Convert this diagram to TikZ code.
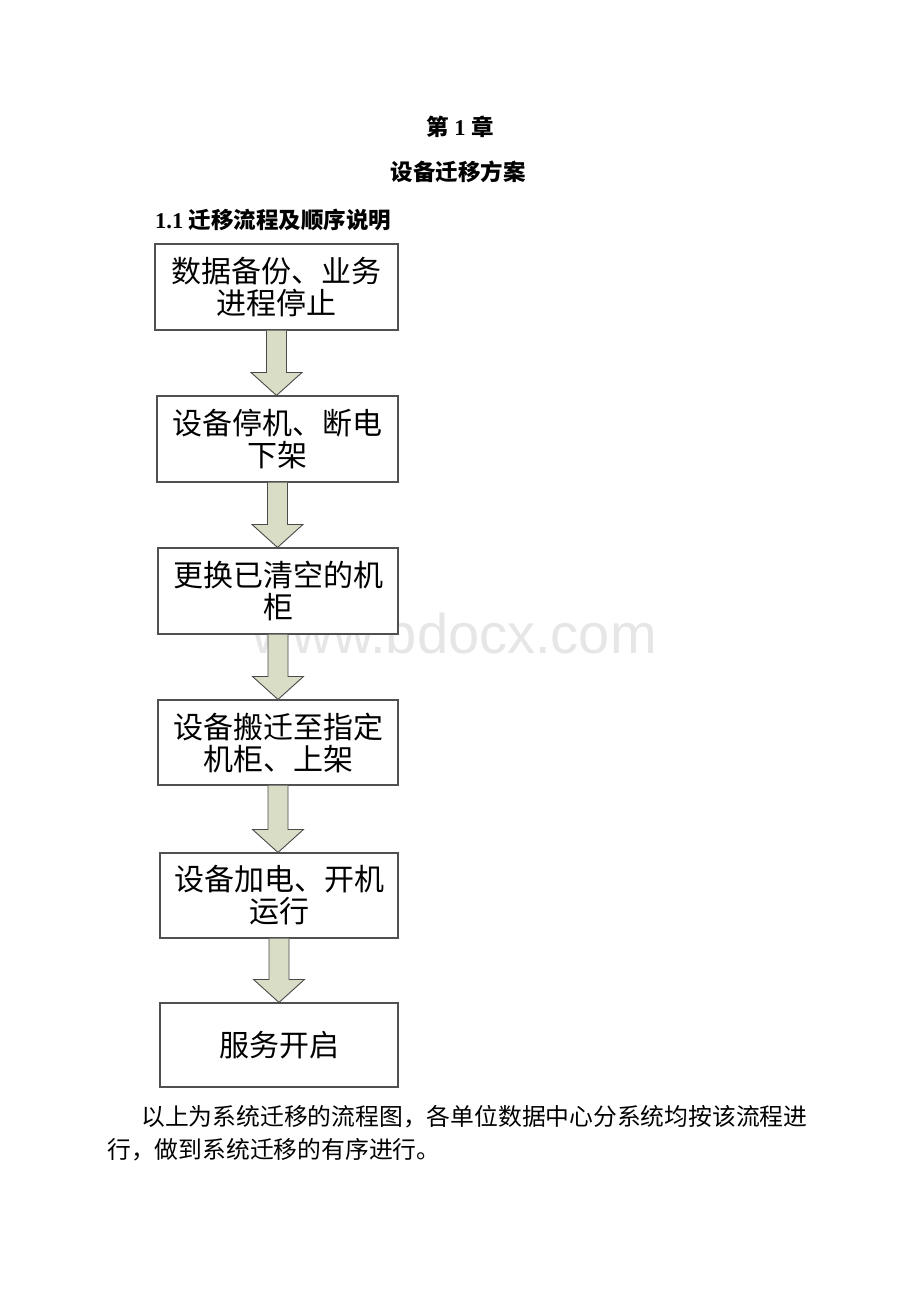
\documentclass[tikz,border=0pt]{standalone}
\usepackage{fontspec}
\setmainfont{Liberation Serif}
\newfontfamily\cjk{Noto Sans CJK SC}
\newfontfamily\wmfont{Liberation Sans}
\usetikzlibrary{calc}
\definecolor{boxline}{HTML}{505050}
\definecolor{arrowfill}{HTML}{D9DDC6}
\definecolor{arrowline}{HTML}{4A4A4A}
\definecolor{wmgray}{HTML}{E6E6E6}
\tikzset{
  stepbox/.style={draw=boxline, line width=1.1pt, fill=white, align=center,
    font=\cjk\fontsize{30}{32}\selectfont, inner sep=0pt},
  blockarr/.style={fill=arrowfill, draw=arrowline, line width=0.9pt, line join=miter},
  headtext/.style={font=\bfseries\fontsize{22.5}{26}\selectfont, inner sep=0pt},
  bodytext/.style={font=\cjk\fontsize{23.8}{28}\selectfont, inner sep=0pt, anchor=west},
}
\newcommand\blockarrow[2]{%
  \filldraw[blockarr] let \p1=(#1.south), \p2=(#2.north) in
    (\x1-10pt,\y1) -- (\x1-10pt,\y2+23pt) -- (\x1-25.5pt,\y2+23pt) -- (\x1,\y2)
    -- (\x1+25.5pt,\y2+23pt) -- (\x1+10pt,\y2+23pt) -- (\x1+10pt,\y1);}
\begin{document}
\begin{tikzpicture}[x=1pt,y=-1pt]
\useasboundingbox[fill=white] (0,0) rectangle (920,1302);
% watermark
\node[font=\wmfont\fontsize{56}{60}\selectfont, text=wmgray, anchor=base west, inner sep=0pt] (wm) at (252,653) {www.bdocx.com};
% headings
\node[headtext] (chap) at (460,127) {{\cjk\bfseries 第} 1 {\cjk\bfseries 章}};
\node[headtext] (title) at (458,172) {\cjk\bfseries 设备迁移方案};
\node[headtext, anchor=west] (sec) at (155,220) {1.1 {\cjk\bfseries 迁移流程及顺序说明}};
% boxes
\node[stepbox, minimum width=243pt, minimum height=86pt] (b1) at (276.5,287) {数据备份、业务\\进程停止};
\node[stepbox, minimum width=241pt, minimum height=86pt] (b2) at (277.5,439) {设备停机、断电\\下架};
\node[stepbox, minimum width=240pt, minimum height=86pt] (b3) at (278,591) {更换已清空的机\\柜};
\node[stepbox, minimum width=240pt, minimum height=85pt] (b4) at (278,742.5) {设备搬迁至指定\\机柜、上架};
\node[stepbox, minimum width=238pt, minimum height=85pt] (b5) at (279,895.5) {设备加电、开机\\运行};
\node[stepbox, minimum width=238pt, minimum height=84pt] (b6) at (279,1045) {服务开启};
% arrows
\blockarrow{b1}{b2}
\blockarrow{b2}{b3}
\blockarrow{b3}{b4}
\blockarrow{b4}{b5}
\blockarrow{b5}{b6}
% paragraph
\node[bodytext] (p1) at (141,1117) {以上为系统迁移的流程图，各单位数据中心分系统均按该流程进};
\node[bodytext] (p2) at (107,1150) {行，做到系统迁移的有序进行。};
\end{tikzpicture}
\end{document}
